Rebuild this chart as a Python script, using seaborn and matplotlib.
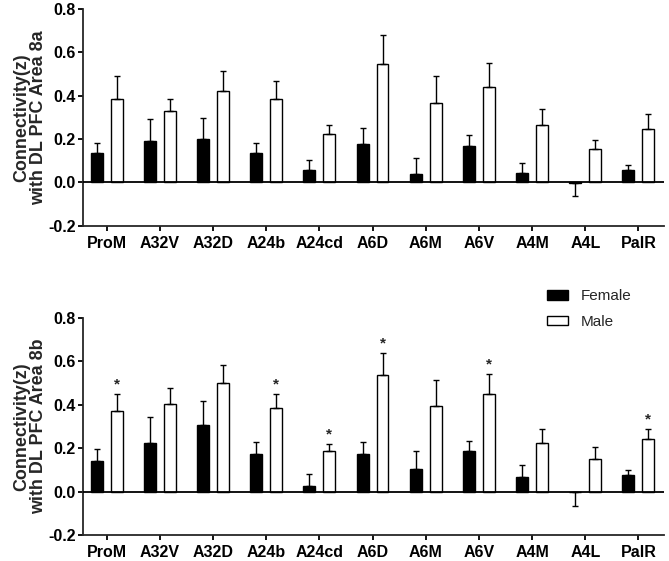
import numpy as np
import pandas as pd
import matplotlib
matplotlib.use('Agg')
import matplotlib.pyplot as plt
import seaborn as sns

regions = ['ProM', 'A32V', 'A32D', 'A24b', 'A24cd', 'A6D', 'A6M', 'A6V', 'A4M', 'A4L', 'PalR']
sexes = ['Female', 'Male']

# Area 8a
female_8a = [0.134, 0.192, 0.201, 0.137, 0.055, 0.178, 0.037, 0.169, 0.043, -0.005, 0.055]
female_8a_sem = [0.049, 0.099, 0.094, 0.046, 0.047, 0.074, 0.074, 0.051, 0.045, 0.058, 0.025]
male_8a = [0.386, 0.330, 0.423, 0.384, 0.221, 0.545, 0.366, 0.440, 0.266, 0.155, 0.246]
male_8a_sem = [0.104, 0.053, 0.089, 0.085, 0.043, 0.133, 0.124, 0.112, 0.071, 0.040, 0.068]
stars_8a = []

# Area 8b
female_8b = [0.140, 0.225, 0.306, 0.171, 0.026, 0.172, 0.106, 0.185, 0.069, -0.002, 0.075]
female_8b_sem = [0.057, 0.118, 0.109, 0.055, 0.057, 0.056, 0.080, 0.047, 0.053, 0.064, 0.025]
male_8b = [0.371, 0.405, 0.498, 0.386, 0.188, 0.535, 0.392, 0.449, 0.225, 0.151, 0.240]
male_8b_sem = [0.078, 0.072, 0.085, 0.063, 0.030, 0.102, 0.120, 0.091, 0.061, 0.054, 0.046]
stars_8b = ['ProM', 'A24b', 'A24cd', 'A6D', 'A6V', 'PalR']

sns.set_style('ticks')
plt.rcParams['font.family'] = ['Liberation Sans', 'DejaVu Sans']
plt.rcParams['axes.linewidth'] = 1.3


def make_df(female, male):
    return pd.DataFrame({
        'region': regions * 2,
        'sex': ['Female'] * len(regions) + ['Male'] * len(regions),
        'value': list(female) + list(male),
    })


def draw_panel(ax, female, female_sem, male, male_sem, stars, area, legend):
    df = make_df(female, male)
    sns.barplot(data=df, x='region', y='value', hue='sex', order=regions, hue_order=sexes,
                palette={'Female': 'black', 'Male': 'white'}, edgecolor='black', linewidth=1.0,
                width=0.75, gap=0.4, errorbar=None, legend=legend, ax=ax)

    # one-sided error bars (SEM) in the direction of the bar
    for cont, sem in zip(ax.containers, [female_sem, male_sem]):
        for bar, e, reg in zip(cont, sem, regions):
            xc = bar.get_x() + bar.get_width() / 2
            val = bar.get_y() + bar.get_height()
            h = val if val >= 0 else min(bar.get_y(), val)
            if h >= 0:
                yerr = [[0], [e]]
            else:
                yerr = [[e], [0]]
            ax.errorbar(xc, h, yerr=yerr, fmt='none', ecolor='black', elinewidth=1.0,
                        capsize=2.2, capthick=1.0, zorder=1)
            if cont is ax.containers[1] and reg in stars:
                ax.text(xc, h + e + 0.012, '*', ha='center', va='bottom', fontsize=11,
                        fontweight='bold')

    ax.axhline(0, color='black', lw=1.3, zorder=3)
    ax.set_ylim(-0.2, 0.8)
    ax.set_yticks([-0.2, 0.0, 0.2, 0.4, 0.6, 0.8])
    ax.set_yticklabels(['-0.2', '0.0', '0.2', '0.4', '0.6', '0.8'])
    ax.set_xlim(-0.45, 10.48)
    ax.set_xlabel('')
    ax.set_ylabel('Connectivity(z)\nwith DL PFC Area ' + area, fontsize=12.9,
                  fontweight='bold', labelpad=0.5, linespacing=1.05)
    ax.tick_params(axis='both', length=3.5, width=1.3, color='black', labelsize=11.5,
                   labelcolor='black')
    ax.tick_params(axis='y', pad=1.5)
    ax.tick_params(axis='x', pad=4)
    for lab in ax.get_xticklabels() + ax.get_yticklabels():
        lab.set_fontweight('bold')
    sns.despine(ax=ax)


fig = plt.figure(figsize=(6.69, 5.61), dpi=100)
ax1 = fig.add_axes([0.1236, 0.5977, 0.8689, 0.3863])
ax2 = fig.add_axes([0.1236, 0.0463, 0.8689, 0.3874])

draw_panel(ax1, female_8a, female_8a_sem, male_8a, male_8a_sem, stars_8a, '8a', False)
draw_panel(ax2, female_8b, female_8b_sem, male_8b, male_8b_sem, stars_8b, '8b', True)

sns.move_legend(ax2, 'upper left', bbox_to_anchor=(0.817, 0.484), bbox_transform=fig.transFigure,
                title=None, frameon=False, fontsize=11, handlelength=1.4, handleheight=0.55,
                handletextpad=0.85, labelspacing=0.75, borderpad=0, borderaxespad=0)
for h in ax2.get_legend().get_patches():
    h.set_edgecolor('black')
    h.set_linewidth(1.0)

fig.savefig('out.png', dpi=100)
